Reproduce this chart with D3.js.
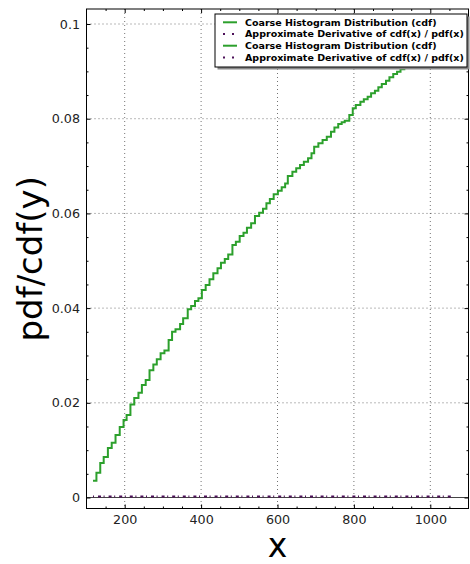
<!DOCTYPE html>
<html>
<head>
<meta charset="utf-8">
<script src="https://cdn.jsdelivr.net/npm/d3@7"></script>
<style>
  body { margin: 0; background: #fff; }
  svg { display: block; font-family: "DejaVu Sans", sans-serif; }
</style>
</head>
<body>
<svg></svg>
<script>
// ступенчатая cdf: начало каждой ступени по x и её уровень
const cdfX = [117,126,136,145,156,166,176,187,197,205,215,225,236,245,255,265,275,284,294,304,
  315,324,333,345,353,365,374,384,393,402,412,422,432,443,452,462,471,482,491,501,
  511,520,531,541,552,562,571,580,590,601,611,620,627,639,649,659,669,680,689,696,
  707,718,729,740,749,759,768,776,788,797,805,817,826,836,845,855,864,873,884,893,
  903,913,922,932,942,953,963,974,984,995,1005,1016,1026,1037,1047,1058];
const cdfY = [0.00355,0.00524,0.00729,0.00855,0.01045,0.01157,0.0132,0.01489,0.01637,0.01742,
  0.01964,0.02101,0.02213,0.02376,0.02482,0.02686,0.02809,0.02919,0.03045,0.03105,
  0.03326,0.03502,0.03552,0.03664,0.03785,0.03975,0.04044,0.0415,0.0421,0.0438,
  0.04488,0.04608,0.04735,0.0484,0.04959,0.05037,0.05132,0.05333,0.05402,0.05523,
  0.05593,0.05698,0.05791,0.05945,0.06015,0.06099,0.06213,0.06304,0.06403,0.06479,
  0.06551,0.06632,0.0679,0.06881,0.06953,0.07022,0.07092,0.07163,0.07269,0.07409,
  0.0748,0.0755,0.0762,0.07726,0.07814,0.07888,0.07924,0.07958,0.08078,0.0822,
  0.08289,0.08359,0.0841,0.08464,0.08537,0.08591,0.08663,0.08733,0.08802,0.08874,
  0.08944,0.08993,0.09044,0.0910,0.0916,0.0922,0.0927,0.0932,0.0938,0.0943,
  0.0948,0.0953,0.0958,0.0963,0.0967,0.0972];

// приближённая производная (pdf)
const pdfX = [117,200,300,400,500,600,700,800,900,1000,1058];
const pdfY = [0.00022,0.00021,0.00022,0.0002,0.00021,0.0002,0.00021,0.0002,0.00021,0.0002,0.0002];

const xTicks = [200,400,600,800,1000];
const xMinor = [150,250,300,350,450,500,550,650,700,750,850,900,950,1050];
const yTicks = [0,0.02,0.04,0.06,0.08,0.1];
const yMinor = [0.005,0.01,0.015,0.025,0.03,0.035,0.045,0.05,0.055,0.065,0.07,0.075,0.085,0.09,0.095];

const legendLabels = [
  "Coarse Histogram Distribution (cdf)",
  "Approximate Derivative of cdf(x) / pdf(x)",
  "Coarse Histogram Distribution (cdf)",
  "Approximate Derivative of cdf(x) / pdf(x)"
];

const width = 470;
const height = 564;
const plotL = 86.5, plotR = 468.5, plotT = 9, plotB = 508.5;
const green = "#2ca02c";
const purple = "#4d1159";
const pdfDash = "1,4,3,2.6";

let svg = d3.select("svg")
  .attr("width", width)
  .attr("height", height);

const scX = d3.scaleLinear().domain([100, 1100]).range([plotL, plotR]);
const scY = d3.scaleLinear().domain([-0.00232, 0.10317]).range([plotB, plotT]);

// сетка
svg.append("g")
  .selectAll("line")
  .data(xTicks)
  .join("line")
  .attr("x1", d => scX(d)).attr("x2", d => scX(d))
  .attr("y1", plotT).attr("y2", plotB)
  .attr("stroke", "#000").attr("stroke-opacity", 0.55)
  .attr("stroke-dasharray", "1,3");
svg.append("g")
  .selectAll("line")
  .data(yTicks)
  .join("line")
  .attr("x1", plotL).attr("x2", plotR)
  .attr("y1", d => scY(d)).attr("y2", d => scY(d))
  .attr("stroke", "#000").attr("stroke-opacity", 0.55)
  .attr("stroke-dasharray", "1,3");

// линия нуля
svg.append("line")
  .attr("x1", plotL).attr("x2", plotR)
  .attr("y1", scY(0)).attr("y2", scY(0))
  .attr("stroke", "#444").attr("stroke-width", 1.2);

// pdf
const pdfPts = pdfX.map((x, i) => [x, pdfY[i]]);
svg.append("path")
  .attr("d", d3.line().x(d => scX(d[0])).y(d => scY(d[1]))(pdfPts))
  .attr("fill", "none")
  .attr("stroke", purple)
  .attr("stroke-width", 2)
  .attr("stroke-dasharray", pdfDash);

// cdf ступеньками
const cdfPts = cdfX.map((x, i) => [x, cdfY[i]]);
svg.append("path")
  .attr("d", d3.line().curve(d3.curveStepAfter).x(d => scX(d[0])).y(d => scY(d[1]))(cdfPts))
  .attr("fill", "none")
  .attr("stroke", green)
  .attr("stroke-width", 2);

// оси: засечки внутрь, со всех сторон
function styleAxis(g) {
  g.select(".domain").remove();
  g.selectAll("line").attr("stroke", "#000");
  g.selectAll("text").attr("fill", "#222").style("font-size", "12.7px")
    .style("font-family", "DejaVu Sans, sans-serif");
}

svg.append("g").attr("transform", `translate(0,${plotB})`)
  .call(d3.axisBottom(scX).tickValues(xTicks).tickSize(-4).tickPadding(6.5).tickFormat(d3.format("d")))
  .call(styleAxis);
svg.append("g").attr("transform", `translate(0,${plotB})`)
  .call(d3.axisBottom(scX).tickValues(xMinor).tickSize(-2).tickFormat(""))
  .call(styleAxis);
svg.append("g").attr("transform", `translate(0,${plotT})`)
  .call(d3.axisTop(scX).tickValues(xTicks).tickSize(-4).tickFormat(""))
  .call(styleAxis);
svg.append("g").attr("transform", `translate(0,${plotT})`)
  .call(d3.axisTop(scX).tickValues(xMinor).tickSize(-2).tickFormat(""))
  .call(styleAxis);

svg.append("g").attr("transform", `translate(${plotL},0)`)
  .call(d3.axisLeft(scY).tickValues(yTicks).tickSize(-4).tickPadding(6.5).tickFormat(d => d === 0 ? "0" : d3.format("~g")(d)))
  .call(styleAxis);
svg.append("g").attr("transform", `translate(${plotL},0)`)
  .call(d3.axisLeft(scY).tickValues(yMinor).tickSize(-2).tickFormat(""))
  .call(styleAxis);
svg.append("g").attr("transform", `translate(${plotR},0)`)
  .call(d3.axisRight(scY).tickValues(yTicks).tickSize(-4).tickFormat(""))
  .call(styleAxis);
svg.append("g").attr("transform", `translate(${plotR},0)`)
  .call(d3.axisRight(scY).tickValues(yMinor).tickSize(-2).tickFormat(""))
  .call(styleAxis);

// рамка
svg.append("rect")
  .attr("x", plotL).attr("y", plotT)
  .attr("width", plotR - plotL).attr("height", plotB - plotT)
  .attr("fill", "none").attr("stroke", "#000").attr("stroke-width", 1);

// подписи осей
svg.append("text")
  .attr("x", (plotL + plotR) / 2).attr("y", 557)
  .attr("text-anchor", "middle")
  .style("font-size", "33px")
  .text("x");
svg.append("text")
  .attr("transform", `translate(42,${(plotT + plotB) / 2}) rotate(-90)`)
  .attr("text-anchor", "middle")
  .style("font-size", "34px")
  .text("pdf/cdf(y)");

// легенда
const lg = svg.append("g").attr("transform", "translate(215,14)");
lg.append("rect").attr("x", 2.5).attr("y", 2.5).attr("width", 252).attr("height", 53)
  .attr("fill", "#888");
lg.append("rect").attr("width", 252).attr("height", 53)
  .attr("fill", "#fff").attr("stroke", "#000").attr("stroke-width", 1);

legendLabels.forEach((label, i) => {
  const cy = 8.3 + i * 11.7;
  lg.append("line")
    .attr("x1", 8).attr("x2", 22)
    .attr("y1", cy).attr("y2", cy)
    .attr("stroke", i % 2 === 0 ? green : purple)
    .attr("stroke-width", 2)
    .attr("stroke-dasharray", i % 2 === 0 ? null : "2,7");
  lg.append("text")
    .attr("x", 30).attr("y", cy)
    .attr("dy", "0.35em")
    .style("font-size", "9.5px")
    .style("font-weight", "bold")
    .text(label);
});
</script>
</body>
</html>
